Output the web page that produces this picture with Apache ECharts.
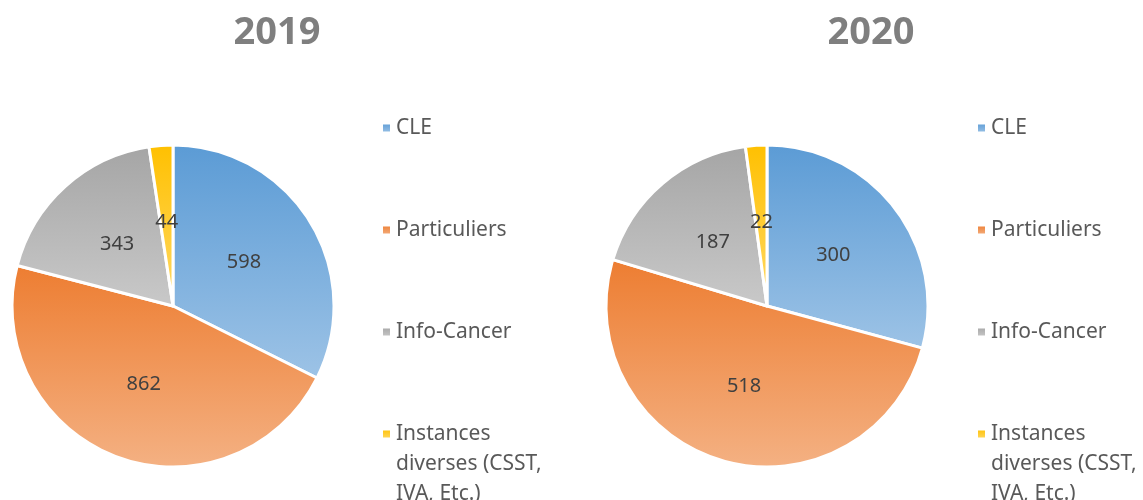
<!DOCTYPE html>
<html>
<head>
    <meta charset="UTF-8">
    <title>2019 / 2020</title>
    <script src="https://cdn.jsdelivr.net/npm/echarts@6/dist/echarts.min.js"></script>
    <style>
        body { margin: 0; background: #fff; }
    </style>
</head>
<body>
<div id="chart" style="width:1143px; height:500px;"></div>
<script>
    // données
    var years = ['2019', '2020'];
    var categories = ['CLE', 'Particuliers', 'Info-Cancer', 'Instances diverses (CSST, IVA, Etc.)'];
    var values2019 = [598, 862, 343, 44];
    var values2020 = [300, 518, 187, 22];

    // dégradés vertical (haut foncé -> bas clair)
    var colorsTop = ['#5B9BD5', '#ED7D31', '#A5A5A5', '#FFC000'];
    var colorsBottom = ['#9DC3E6', '#F4B183', '#C9C9C9', '#FFD966'];

    var font = '"Noto Sans", sans-serif';

    function grad(i) {
        return new echarts.graphic.LinearGradient(0, 0, 0, 1, [
            {offset: 0, color: colorsTop[i]},
            {offset: 1, color: colorsBottom[i]}
        ]);
    }

    function pieData(values) {
        return categories.map(function (name, i) {
            return {name: name, value: values[i], itemStyle: {color: grad(i)}};
        });
    }

    // chaque entrée fait 5 lignes pour que le carré reste sur la 1re ligne du texte
    function makeLegend(left) {
        return {
            orient: 'vertical',
            left: left,
            top: 48,
            height: 700,
            icon: 'rect',
            itemWidth: 9,
            itemHeight: 9,
            itemGap: -48,
            selectedMode: false,
            formatter: function (name) {
                if (name === categories[3]) return '\n\nInstances\ndiverses (CSST,\nIVA, Etc.)';
                return '\n\n' + name + '\n\n';
            },
            textStyle: {fontSize: 21, color: '#595959', fontFamily: font, lineHeight: 30},
            data: categories
        };
    }

    function makePie(center, values) {
        return {
            type: 'pie',
            radius: 161,
            center: center,
            startAngle: 90,
            clockwise: true,
            avoidLabelOverlap: false,
            itemStyle: {borderColor: '#fff', borderWidth: 3},
            label: {show: true, position: 'inside', formatter: '{c}', fontSize: 20, color: '#404040', fontFamily: font},
            labelLine: {show: false},
            emphasis: {disabled: true},
            data: pieData(values)
        };
    }

    var chart = echarts.init(document.getElementById('chart'), null, {renderer: 'canvas'});
    var option = {
        backgroundColor: '#fff',
        animation: false,
        title: [
            {text: years[0], left: 272, top: 9, textAlign: 'center',
                textStyle: {fontSize: 38, fontWeight: 'bold', color: '#7F7F7F', fontFamily: font}},
            {text: years[1], left: 866, top: 9, textAlign: 'center',
                textStyle: {fontSize: 38, fontWeight: 'bold', color: '#7F7F7F', fontFamily: font}}
        ],
        legend: [makeLegend(376), makeLegend(971)],
        series: [
            makePie([173, 306], values2019),
            makePie([767, 306], values2020)
        ]
    };
    chart.setOption(option);
</script>
</body>
</html>
